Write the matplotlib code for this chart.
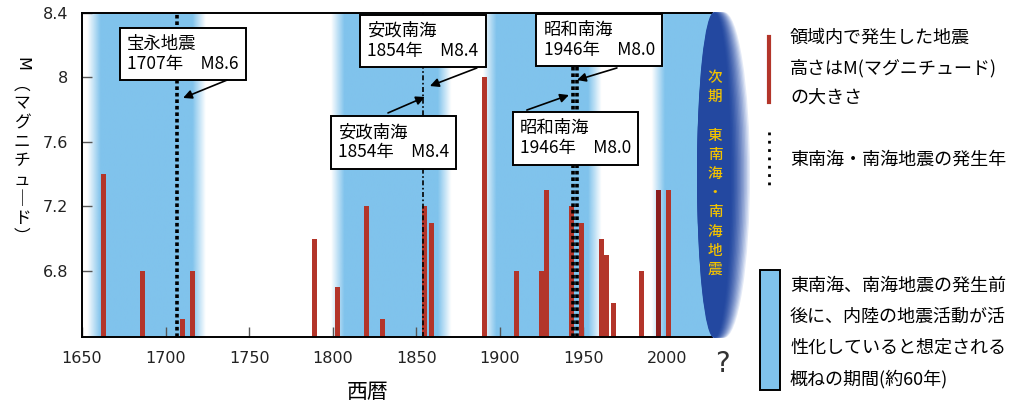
import numpy as np
import matplotlib
matplotlib.use('Agg')
import matplotlib.pyplot as plt
from matplotlib.patches import Ellipse, Rectangle
from matplotlib.lines import Line2D
from matplotlib.colors import to_rgb

plt.rcParams['font.family'] = ['Noto Sans CJK JP', 'DejaVu Sans']

# inland earthquakes (year, magnitude)
quake_years = [1663, 1686, 1710, 1716, 1789, 1803, 1820, 1830, 1855, 1859, 1891,
               1910, 1925, 1928, 1943, 1949, 1961, 1964, 1968, 1985, 1995, 2001]
quake_mags = [7.4, 6.8, 6.5, 6.8, 7.0, 6.7, 7.2, 6.5, 7.2, 7.1, 8.0,
              6.8, 6.8, 7.3, 7.2, 7.1, 7.0, 6.9, 6.6, 6.8, 7.3, 7.3]
dark_year = 1995

# Tonankai / Nankai quake years (dotted lines)
trench_years = [1707, 1854, 1944, 1946]

# active periods (blue bands)
band_start = [1657, 1803, 1894, 1995]
band_end = [1720, 1867, 1957, 2040]

box_texts = ['宝永地震\n1707年　M8.6',
             '安政南海\n1854年　M8.4',
             '安政南海\n1854年　M8.4',
             '昭和南海\n1946年　M8.0',
             '昭和南海\n1946年　M8.0']

xticks = [1650, 1700, 1750, 1800, 1850, 1900, 1950, 2000]
yticks = [6.8, 7.2, 7.6, 8.0, 8.4]
ytick_labels = ['6.8', '7.2', '7.6', '8', '8.4']

colors = {
    'bar': '#B3352A',
    'bar_dark': '#8B1E1E',
    'band': '#80C3EC',
    'ell': '#2348A0',
    'gold': '#F2C200',
}

W, H = 1023, 405
fig = plt.figure(figsize=(W / 100, H / 100), dpi=100)
ax = fig.add_axes([82 / W, 1 - 337 / H, 630 / W, 324 / H])
xmin, xmax = 1650, 2027
ymin, ymax = 6.39, 8.4
px_per_year = 630 / (xmax - xmin)

def fig_px(x, y):
    return x / W, 1 - y / H

# blue bands with soft edges
xs = np.linspace(xmin, 2045, 1200)
alpha = np.zeros_like(xs)
fade = 4.0
for a, b in zip(band_start, band_end):
    lo = np.clip((xs - (a - fade)) / (2 * fade), 0, 1)
    hi = np.clip(((b + fade) - xs) / (2 * fade), 0, 1)
    alpha = np.maximum(alpha, np.minimum(lo, hi))
img = np.ones((1, len(xs), 4))
img[0, :, :3] = to_rgb(colors['band'])
img[0, :, 3] = alpha
ax.imshow(img, extent=[xmin, 2045, ymin, ymax], aspect='auto', zorder=0,
          interpolation='bilinear')

# bars
bar_cols = [colors['bar_dark'] if y == dark_year else colors['bar'] for y in quake_years]
ax.bar(quake_years, np.array(quake_mags) - ymin, bottom=ymin, width=3.0,
       color=bar_cols, zorder=2)

# trench quake lines
for y in trench_years:
    if y == 1854:
        ax.axvline(y, color='black', lw=1.2, linestyle=(0, (3, 1.5, 1, 1.5)), zorder=3)
    else:
        ax.axvline(y, color='black', lw=2.6, linestyle=(0, (1, 0.8)), zorder=3)

ax.set_xlim(xmin, xmax)
ax.set_ylim(ymin, ymax)
ax.set_xticks(xticks)
ax.set_yticks(yticks)
ax.set_yticklabels(ytick_labels)
ax.tick_params(direction='in', length=7, width=1, color='#555555',
               labelsize=11.5, labelcolor='#222222', pad=10)
for lab in ax.get_xticklabels() + ax.get_yticklabels():
    lab.set_fontfamily('DejaVu Sans')
ax.spines['right'].set_visible(False)
for s in ['left', 'bottom', 'top']:
    ax.spines[s].set_linewidth(1.4)

# ellipse for next quake (soft right edge, darker core)
ecy = 7.395
n = 14
for k in range(n):
    f = k / (n - 1)
    cx_px = 724 - 10 * f
    w_px = 52 - 18 * f
    c = np.array(to_rgb('#C9D5EF')) * (1 - f) ** 1.5 + np.array(to_rgb(colors['ell'])) * (1 - (1 - f) ** 1.5)
    e = Ellipse((xmin + (cx_px - 82) / px_per_year, ecy), width=w_px / px_per_year,
                height=2.02, facecolor=c, edgecolor='none',
                alpha=0.5 + 0.5 * f, zorder=4, clip_on=False)
    ax.add_patch(e)

# annotation boxes
box_pos = [(1710.4, 8.146), (1854.0, 8.226), (1836.4, 7.597), (1959.6, 8.233), (1945.3, 7.622)]
for t, (bx, by) in zip(box_texts, box_pos):
    ax.text(bx, by, t, ha='center', va='center', multialignment='left', fontsize=12.5,
            linespacing=1.15, zorder=6,
            bbox=dict(boxstyle='square,pad=0.42', facecolor='white', edgecolor='black', lw=1.4))

arrows = [((1736.8, 7.984), (1710.5, 7.873)),
          ((1886.3, 8.059), (1858.2, 7.947)),
          ((1833.1, 7.780), (1855.2, 7.879)),
          ((1970.1, 8.059), (1946.2, 7.984)),
          ((1916.2, 7.798), (1941.4, 7.891))]
for tail, head in arrows:
    ax.annotate('', xy=head, xytext=tail, zorder=7,
                arrowprops=dict(arrowstyle='-|>', color='black', lw=1.2, mutation_scale=13,
                                shrinkA=0, shrinkB=0))

# vertical text in ellipse
ell_chars = list('次期　東南海・南海地震')
for i, ch in enumerate(ell_chars):
    fig.text(*fig_px(715, 78 + i * 19.2), ch, ha='center', va='center', fontsize=10.5,
             color=colors['gold'], fontweight='medium', zorder=8)

# y label (vertical writing)
fig.text(*fig_px(22, 64), 'M', rotation=-90, ha='center', va='center', fontsize=11.5,
         fontfamily='DejaVu Sans')
ylab_chars = list('︵マグニチュ｜ド︶')
for i, ch in enumerate(ylab_chars):
    fig.text(*fig_px(22, 85 + i * 19.0), ch, ha='center', va='center', fontsize=12)

fig.text(*fig_px(368, 392), '西暦', ha='center', va='center', fontsize=15)
fig.text(*fig_px(722, 364), '?', ha='center', va='center', fontsize=20, color='#333333',
         fontfamily='DejaVu Sans')

# legend on the right
fig.add_artist(Line2D([769 / W, 769 / W], [1 - 37 / H, 1 - 102 / H], color=colors['bar'], lw=3))
fig.add_artist(Line2D([769 / W, 769 / W], [1 - 132 / H, 1 - 190 / H], color='black', lw=2,
                      linestyle=(0, (1, 2))))
fig.add_artist(Rectangle((760 / W, 1 - 390 / H), 20 / W, 120 / H, facecolor=colors['band'],
                         edgecolor='black', lw=1.4))
leg1 = ['領域内で発生した地震', '高さはM(マグニチュード)', 'の大きさ']
for i, t in enumerate(leg1):
    fig.text(*fig_px(790, 38 + i * 30), t, ha='left', va='center', fontsize=13)
fig.text(*fig_px(790, 160), '東南海・南海地震の発生年', ha='left', va='center', fontsize=13)
leg3 = ['東南海、南海地震の発生前', '後に、内陸の地震活動が活', '性化していると想定される', '概ねの期間(約60年)']
for i, t in enumerate(leg3):
    fig.text(*fig_px(790, 286 + i * 31), t, ha='left', va='center', fontsize=13)

fig.savefig('out.png', dpi=100)
